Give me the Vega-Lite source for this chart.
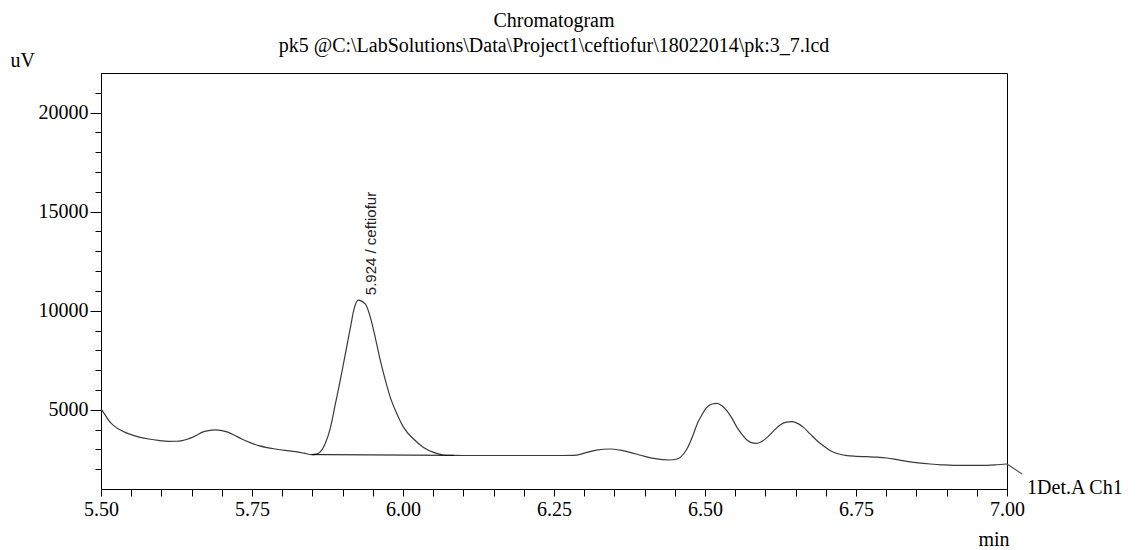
{
  "$schema": "https://vega.github.io/schema/vega-lite/v6.json",
  "width": 906,
  "height": 416,
  "autosize": {"type": "none"},
  "padding": {"left": 101, "top": 73, "right": 135, "bottom": 61},
  "background": "white",
  "title": {
    "text": ["Chromatogram", "pk5 @C:\\LabSolutions\\Data\\Project1\\ceftiofur\\18022014\\pk:3_7.lcd"],
    "font": "Liberation Serif",
    "fontSize": 20,
    "fontWeight": "normal",
    "color": "black",
    "anchor": "middle",
    "lineHeight": 25,
    "offset": -6
  },
  "config": {
    "view": {"stroke": "black", "strokeWidth": 1},
    "axis": {
      "grid": false,
      "domainColor": "black",
      "tickColor": "black",
      "labelColor": "black",
      "titleColor": "black",
      "labelFont": "Liberation Serif",
      "titleFont": "Liberation Serif",
      "labelFontSize": 20,
      "titleFontSize": 20,
      "titleFontWeight": "normal",
      "labelOverlap": false,
      "labelFlush": false,
      "labelBound": false
    }
  },
  "datasets": {
    "signal": [
      {"t": 5.500, "uV": 5050}, {"t": 5.506, "uV": 4780}, {"t": 5.513, "uV": 4450}, {"t": 5.521, "uV": 4200},
      {"t": 5.529, "uV": 4030}, {"t": 5.540, "uV": 3860}, {"t": 5.551, "uV": 3730}, {"t": 5.565, "uV": 3610},
      {"t": 5.579, "uV": 3525}, {"t": 5.595, "uV": 3450}, {"t": 5.612, "uV": 3404}, {"t": 5.625, "uV": 3410},
      {"t": 5.634, "uV": 3439}, {"t": 5.643, "uV": 3510}, {"t": 5.651, "uV": 3606}, {"t": 5.660, "uV": 3740},
      {"t": 5.667, "uV": 3859}, {"t": 5.678, "uV": 3950}, {"t": 5.689, "uV": 3980}, {"t": 5.700, "uV": 3950},
      {"t": 5.711, "uV": 3859}, {"t": 5.722, "uV": 3700}, {"t": 5.733, "uV": 3525}, {"t": 5.747, "uV": 3340},
      {"t": 5.761, "uV": 3187}, {"t": 5.775, "uV": 3090}, {"t": 5.789, "uV": 3020}, {"t": 5.805, "uV": 2950},
      {"t": 5.822, "uV": 2884}, {"t": 5.836, "uV": 2810}, {"t": 5.849, "uV": 2735}, {"t": 5.856, "uV": 2760},
      {"t": 5.863, "uV": 2870}, {"t": 5.871, "uV": 3273}, {"t": 5.880, "uV": 4111}, {"t": 5.888, "uV": 5293},
      {"t": 5.896, "uV": 6470}, {"t": 5.9045, "uV": 7813}, {"t": 5.913, "uV": 9162}, {"t": 5.919, "uV": 10091},
      {"t": 5.926, "uV": 10530}, {"t": 5.9375, "uV": 10343}, {"t": 5.946, "uV": 9667}, {"t": 5.954, "uV": 8657},
      {"t": 5.9625, "uV": 7480}, {"t": 5.971, "uV": 6470}, {"t": 5.979, "uV": 5626}, {"t": 5.990, "uV": 4788},
      {"t": 6.001, "uV": 4111}, {"t": 6.0175, "uV": 3525}, {"t": 6.034, "uV": 3101}, {"t": 6.0507, "uV": 2849},
      {"t": 6.067, "uV": 2717}, {"t": 6.084, "uV": 2700}, {"t": 6.100, "uV": 2690}, {"t": 6.150, "uV": 2690},
      {"t": 6.200, "uV": 2690}, {"t": 6.250, "uV": 2690}, {"t": 6.282, "uV": 2697}, {"t": 6.295, "uV": 2760},
      {"t": 6.3045, "uV": 2849}, {"t": 6.320, "uV": 2960}, {"t": 6.343, "uV": 3020}, {"t": 6.360, "uV": 2960},
      {"t": 6.376, "uV": 2849}, {"t": 6.395, "uV": 2690}, {"t": 6.415, "uV": 2545}, {"t": 6.4425, "uV": 2465},
      {"t": 6.452, "uV": 2500}, {"t": 6.459, "uV": 2596}, {"t": 6.470, "uV": 3020}, {"t": 6.480, "uV": 3700},
      {"t": 6.487, "uV": 4283}, {"t": 6.495, "uV": 4750}, {"t": 6.503, "uV": 5121}, {"t": 6.512, "uV": 5290},
      {"t": 6.520, "uV": 5323}, {"t": 6.528, "uV": 5200}, {"t": 6.536, "uV": 4955}, {"t": 6.545, "uV": 4550},
      {"t": 6.553, "uV": 4111}, {"t": 6.5615, "uV": 3750}, {"t": 6.5695, "uV": 3475}, {"t": 6.577, "uV": 3340},
      {"t": 6.585, "uV": 3303}, {"t": 6.594, "uV": 3400}, {"t": 6.603, "uV": 3606}, {"t": 6.614, "uV": 3950},
      {"t": 6.625, "uV": 4247}, {"t": 6.635, "uV": 4380}, {"t": 6.644, "uV": 4399}, {"t": 6.654, "uV": 4300},
      {"t": 6.663, "uV": 4111}, {"t": 6.674, "uV": 3780}, {"t": 6.6855, "uV": 3439}, {"t": 6.697, "uV": 3160},
      {"t": 6.7075, "uV": 2934}, {"t": 6.720, "uV": 2780}, {"t": 6.735, "uV": 2682}, {"t": 6.750, "uV": 2650},
      {"t": 6.768, "uV": 2631}, {"t": 6.785, "uV": 2610}, {"t": 6.801, "uV": 2566}, {"t": 6.818, "uV": 2480},
      {"t": 6.834, "uV": 2394}, {"t": 6.853, "uV": 2320}, {"t": 6.873, "uV": 2263}, {"t": 6.892, "uV": 2220},
      {"t": 6.912, "uV": 2192}, {"t": 6.935, "uV": 2190}, {"t": 6.956, "uV": 2192}, {"t": 6.980, "uV": 2220},
      {"t": 7.000, "uV": 2263}
    ],
    "baseline": [{"t": 5.849, "uV": 2735}, {"t": 6.084, "uV": 2700}],
    "leader": [{"t": 7.000, "uV": 2263}, {"t": 7.025, "uV": 1757}],
    "peaks": [{"t": 5.926, "uV": 10530, "label": "5.924 / ceftiofur"}],
    "channel": [{"t": 7.025, "uV": 1757, "label": "1Det.A Ch1"}]
  },
  "layer": [
    {
      "data": {"name": "signal"},
      "mark": {"type": "line", "color": "#3a3a3a", "strokeWidth": 1.2, "interpolate": "monotone"},
      "encoding": {
        "x": {
          "field": "t", "type": "quantitative",
          "scale": {"domain": [5.5, 7.0], "nice": false, "zero": false},
          "axis": {
            "values": [5.5, 5.55, 5.6, 5.65, 5.7, 5.75, 5.8, 5.85, 5.9, 5.95, 6.0, 6.05, 6.1, 6.15, 6.2, 6.25, 6.3, 6.35, 6.4, 6.45, 6.5, 6.55, 6.6, 6.65, 6.7, 6.75, 6.8, 6.85, 6.9, 6.95, 7.0],
            "tickCount": 200,
            "labelExpr": "abs(datum.value*4 - round(datum.value*4)) < 0.001 ? format(datum.value, '.2f') : ''",
            "labelOverlap": false,
            "tickSize": 7,
            "labelPadding": 3,
            "title": "min",
            "titleAnchor": "end",
            "titleAlign": "right",
            "titleBaseline": "alphabetic",
            "titleX": 908,
            "titleY": 56
          }
        },
        "y": {
          "field": "uV", "type": "quantitative",
          "scale": {"domain": [1000, 22000], "nice": false, "zero": false},
          "axis": {
            "values": [2000, 3000, 4000, 5000, 6000, 7000, 8000, 9000, 10000, 11000, 12000, 13000, 14000, 15000, 16000, 17000, 18000, 19000, 20000, 21000],
            "tickCount": 200,
            "labelExpr": "datum.value % 5000 === 0 ? format(datum.value, 'd') : ''",
            "labelOverlap": false,
            "tickSize": {"condition": {"test": "datum.value % 5000 === 0", "value": 11}, "value": 6},
            "labelPadding": 2,
            "title": "uV",
            "titleAngle": 0,
            "titleAlign": "left",
            "titleBaseline": "alphabetic",
            "titleX": -91,
            "titleY": -7
          }
        }
      }
    },
    {
      "data": {"name": "baseline"},
      "mark": {"type": "line", "color": "black", "strokeWidth": 1},
      "encoding": {
        "x": {"field": "t", "type": "quantitative"},
        "y": {"field": "uV", "type": "quantitative"}
      }
    },
    {
      "data": {"name": "leader"},
      "mark": {"type": "line", "color": "#555555", "strokeWidth": 1.2},
      "encoding": {
        "x": {"field": "t", "type": "quantitative"},
        "y": {"field": "uV", "type": "quantitative"}
      }
    },
    {
      "data": {"name": "peaks"},
      "mark": {"type": "text", "angle": -90, "align": "left", "baseline": "middle", "dx": 5, "dy": 13, "font": "Liberation Sans", "fontSize": 15, "color": "#222222"},
      "encoding": {
        "x": {"field": "t", "type": "quantitative"},
        "y": {"field": "uV", "type": "quantitative"},
        "text": {"field": "label"}
      }
    },
    {
      "data": {"name": "channel"},
      "mark": {"type": "text", "align": "left", "baseline": "alphabetic", "dx": 5, "dy": 20, "font": "Liberation Serif", "fontSize": 20, "color": "black"},
      "encoding": {
        "x": {"field": "t", "type": "quantitative"},
        "y": {"field": "uV", "type": "quantitative"},
        "text": {"field": "label"}
      }
    }
  ]
}
